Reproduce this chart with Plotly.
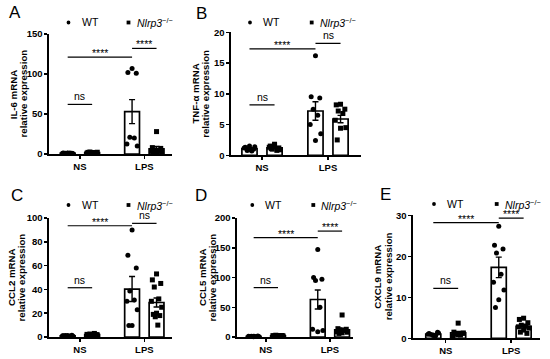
import plotly.graph_objects as go
import numpy as np

# ---------------- data ----------------
categories = ["NS", "LPS"]
groups = ["WT", "Nlrp3-/-"]

# A: IL-6
il6_wt_mean = [1.0, 53.0]
il6_wt_sem = [0.15, 15.0]
il6_ko_mean = [1.7, 6.5]
il6_ko_sem = [0.2, 2.8]
il6_wt_ns = [0.8, 1.2, 1.0, 0.9, 1.1, 1.0, 0.7, 1.3]
il6_ko_ns = [1.5, 2.0, 1.2, 2.5, 1.8, 1.0, 2.2, 1.6]
il6_wt_lps = [107, 102, 101, 21, 20, 12.5, 10]
il6_ko_lps = [28, 8, 7, 5, 4, 3.5, 3, 2, 1.5]

# B: TNF-a
tnf_wt_mean = [1.1, 7.2]
tnf_wt_sem = [0.15, 1.5]
tnf_ko_mean = [1.2, 5.9]
tnf_ko_sem = [0.15, 0.6]
tnf_wt_ns = [1.5, 1.3, 1.0, 0.8, 0.7, 1.2, 1.4, 0.9]
tnf_ko_ns = [1.8, 1.5, 1.2, 1.0, 0.8, 1.3, 0.9, 1.6, 1.1]
tnf_wt_lps = [16.2, 9.5, 9.3, 7.5, 6.5, 5.0, 3.5, 2.4]
tnf_ko_lps = [8.3, 8.2, 7.5, 7.2, 6.8, 5.7, 4.5, 4.4, 2.5]

# C: CCL2
ccl2_wt_mean = [1.0, 40.3]
ccl2_wt_sem = [0.15, 10.5]
ccl2_ko_mean = [2.0, 29.0]
ccl2_ko_sem = [0.25, 3.8]
ccl2_wt_ns = [0.5, 1.0, 1.5, 1.2, 0.8, 1.1, 0.9, 1.3]
ccl2_ko_ns = [1.0, 1.5, 2.0, 2.5, 3.0, 2.2, 1.8, 1.2]
ccl2_wt_lps = [90, 68.6, 58, 38.6, 31, 30, 22.8, 9.7, 9.7]
ccl2_ko_lps = [53, 48, 45, 42, 32, 30, 25, 20, 19, 18, 17, 10]

# D: CCL5
ccl5_wt_mean = [1.0, 63.0]
ccl5_wt_sem = [0.2, 16.0]
ccl5_ko_mean = [2.0, 12.0]
ccl5_ko_sem = [0.3, 3.0]
ccl5_wt_ns = [0.5, 1.0, 1.5, 1.2, 0.8, 1.1, 0.9, 1.3]
ccl5_ko_ns = [1.5, 2.0, 2.5, 3.0, 1.8, 2.2, 1.6, 2.4]
ccl5_wt_lps = [147, 100, 97, 95, 50, 13, 11, 9]
ccl5_ko_lps = [37, 14, 13, 12, 11, 9, 8, 7, 6]

# E: CXCL9
cxcl9_wt_mean = [1.0, 17.3]
cxcl9_wt_sem = [0.12, 2.5]
cxcl9_ko_mean = [1.3, 2.9]
cxcl9_ko_sem = [0.35, 0.4]
cxcl9_wt_ns = [0.8, 1.2, 1.5, 0.9, 0.6, 1.0, 1.3, 0.7]
cxcl9_ko_ns = [3.7, 1.5, 1.2, 1.0, 0.8, 0.5, 1.3, 0.9]
cxcl9_wt_lps = [27.3, 22.7, 21.8, 20.8, 15.6, 13.7, 11.8, 9.4, 7.5]
cxcl9_ko_lps = [4.9, 4.6, 3.8, 3.2, 3.0, 2.8, 2.5, 2.0, 1.5, 1.2]

y_titles = ["IL-6 mRNA", "TNF-α mRNA", "CCL2 mRNA", "CCL5 mRNA", "CXCL9 mRNA"]
y_title2 = "relative expression"
panel_letters = ["A", "B", "C", "D", "E"]
y_tickvals = [[0, 50, 100, 150], [0, 5, 10, 15, 20], [0, 20, 40, 60, 80, 100],
              [0, 50, 100, 150, 200], [0, 10, 20, 30]]

data = [
    (il6_wt_mean, il6_wt_sem, il6_ko_mean, il6_ko_sem, il6_wt_ns, il6_wt_lps, il6_ko_ns, il6_ko_lps),
    (tnf_wt_mean, tnf_wt_sem, tnf_ko_mean, tnf_ko_sem, tnf_wt_ns, tnf_wt_lps, tnf_ko_ns, tnf_ko_lps),
    (ccl2_wt_mean, ccl2_wt_sem, ccl2_ko_mean, ccl2_ko_sem, ccl2_wt_ns, ccl2_wt_lps, ccl2_ko_ns, ccl2_ko_lps),
    (ccl5_wt_mean, ccl5_wt_sem, ccl5_ko_mean, ccl5_ko_sem, ccl5_wt_ns, ccl5_wt_lps, ccl5_ko_ns, ccl5_ko_lps),
    (cxcl9_wt_mean, cxcl9_wt_sem, cxcl9_ko_mean, cxcl9_ko_sem, cxcl9_wt_ns, cxcl9_wt_lps, cxcl9_ko_ns, cxcl9_ko_lps),
]

# ---------------- layout (pixel geometry) ----------------
W, H = 550, 359
def px(x):
    return x / W
def py(y):
    return 1 - y / H

OFF = 0.19
BW = 0.23
FONT = "Liberation Sans, Arial, sans-serif"

layout_cfg = [
    dict(box=(49, 172, 34, 154), xr=[-0.48, 1.43], leg=(68.5, 128.5, 22.5), letter=(15.3, 12.5),
         tx=(13.3, 22.5),
         stats=[(-OFF, 1 - OFF, 121, "****"), (1 - OFF, 1 + OFF, 132, "****"), (-OFF, OFF, 62, "ns")]),
    dict(box=(231, 361, 32.3, 155.3), xr=[-0.47, 1.5], leg=(250, 311.7, 22.5), letter=(201, 14),
         tx=(195.8, 206),
         stats=[(-OFF, 1 - OFF, 17.3, "****"), (1 - OFF, 1 + OFF, 18.2, "ns"), (-OFF, OFF, 8.2, "ns")]),
    dict(box=(49, 172, 218, 337), xr=[-0.48, 1.43], leg=(68.5, 128.5, 205), letter=(17, 195),
         tx=(11.5, 21),
         stats=[(-OFF, 1 - OFF, 93.5, "****"), (1 - OFF, 1 + OFF, 95.5, "ns"), (-OFF, OFF, 41.4, "ns")]),
    dict(box=(237, 353, 218, 337), xr=[-0.45, 1.36], leg=(252.3, 313.3, 205), letter=(200.5, 195),
         tx=(202.5, 212),
         stats=[(-OFF, 1 - OFF, 167, "****"), (1 - OFF, 1 + OFF, 178, "****"), (-OFF, OFF, 83, "ns")]),
    dict(box=(413, 540, 215.3, 338.3), xr=[-0.5, 1.44], leg=(434, 496.7, 204), letter=(385, 194.5),
         tx=(378, 388.5),
         stats=[(-OFF, 1 - OFF, 28.2, "****"), (1 - OFF, 1 + OFF, 29.3, "****"), (-OFF, OFF, 12.2, "ns")]),
]

JIT = [0.0, -0.065, 0.065, -0.035, 0.035, -0.08, 0.08, 0.0, -0.05, 0.05, -0.02, 0.02]
def jitter(n, center):
    return [center + JIT[k % len(JIT)] for k in range(n)]

fig = go.Figure()
shapes = []
annotations = []
lay = {}

for i, (cfg, d) in enumerate(zip(layout_cfg, data)):
    wt_mean, wt_sem, ko_mean, ko_sem, wt_ns, wt_lps, ko_ns, ko_lps = d
    xa = "x" if i == 0 else f"x{i+1}"
    ya = "y" if i == 0 else f"y{i+1}"
    xk = "xaxis" if i == 0 else f"xaxis{i+1}"
    yk = "yaxis" if i == 0 else f"yaxis{i+1}"
    yt = y_tickvals[i]

    for mean, sem, sgn in ((wt_mean, wt_sem, -1), (ko_mean, ko_sem, 1)):
        fig.add_trace(go.Bar(
            x=[0 + sgn * OFF, 1 + sgn * OFF], y=mean, width=BW,
            marker=dict(color="white", line=dict(color="black", width=1.7)),
            error_y=dict(type="data", array=sem, color="black", thickness=1.4, width=3),
            xaxis=xa, yaxis=ya, showlegend=False, hoverinfo="skip"))

    for pts, c, sym in ((wt_ns, -OFF, "circle"), (wt_lps, 1 - OFF, "circle"),
                        (ko_ns, OFF, "square"), (ko_lps, 1 + OFF, "square")):
        fig.add_trace(go.Scatter(
            x=jitter(len(pts), c), y=pts, mode="markers",
            marker=dict(symbol=sym, size=5, color="black", line=dict(width=0)),
            cliponaxis=False, xaxis=xa, yaxis=ya, showlegend=False, hoverinfo="skip"))

    x0, x1, y0, y1 = cfg["box"]
    lay[xk] = dict(domain=[px(x0), px(x1)], range=cfg["xr"], anchor=ya,
                   tickvals=[0, 1], ticktext=categories, automargin=False,
                   showline=True, linecolor="black", linewidth=1.6,
                   ticks="outside", ticklen=3, tickwidth=1.5, tickcolor="black",
                   showgrid=False, zeroline=False,
                   tickfont=dict(family=FONT, size=9.5, color="black", weight="bold"))
    lay[yk] = dict(domain=[py(y1), py(y0)], range=[0, yt[-1]], anchor=xa,
                   tickvals=yt, showline=True, linecolor="black", linewidth=1.6, automargin=False,
                   ticks="outside", ticklen=3, tickwidth=1.5, tickcolor="black",
                   showgrid=False, zeroline=False,
                   tickfont=dict(family=FONT, size=9.5, color="black", weight="bold"))

    lx, ly = cfg["letter"]
    annotations.append(dict(text=panel_letters[i], x=px(lx), y=py(ly), xref="paper", yref="paper",
                            showarrow=False, xanchor="center", yanchor="middle", borderpad=0,
                            font=dict(family=FONT, size=17, color="black")))
    ymid = (y0 + y1) / 2
    for t, tx in ((y_titles[i], cfg["tx"][0]), (y_title2, cfg["tx"][1])):
        annotations.append(dict(text=t, x=px(tx), y=py(ymid), xref="paper", yref="paper",
                                showarrow=False, textangle=-90, xanchor="center", yanchor="middle",
                                borderpad=0,
                                font=dict(family=FONT, size=9.7, color="black", weight="bold")))
    dx, sx, lyy = cfg["leg"]
    r = 1.9
    shapes.append(dict(type="circle", xref="paper", yref="paper",
                       x0=px(dx - r), x1=px(dx + r), y0=py(lyy + r), y1=py(lyy - r),
                       fillcolor="black", line=dict(width=0)))
    shapes.append(dict(type="rect", xref="paper", yref="paper",
                       x0=px(sx - r), x1=px(sx + r), y0=py(lyy + r), y1=py(lyy - r),
                       fillcolor="black", line=dict(width=0)))
    annotations.append(dict(text=groups[0], x=px(dx + 12), y=py(lyy), xref="paper", yref="paper",
                            showarrow=False, xanchor="left", yanchor="middle", borderpad=0,
                            font=dict(family=FONT, size=10.5, color="black")))
    annotations.append(dict(text="<i>Nlrp3</i><sup>−/−</sup>", x=px(sx + 7), y=py(lyy), xref="paper",
                            yref="paper", showarrow=False, xanchor="left", yanchor="middle",
                            borderpad=0, font=dict(family=FONT, size=10.5, color="black")))
    for sx0, sx1, sy, txt in cfg["stats"]:
        shapes.append(dict(type="line", xref=xa, yref=ya, x0=sx0, x1=sx1, y0=sy, y1=sy,
                           line=dict(color="black", width=1.2)))
        annotations.append(dict(text=txt, x=(sx0 + sx1) / 2, y=sy, xref=xa, yref=ya,
                                showarrow=False, xanchor="center", yanchor="bottom", borderpad=0,
                                yshift=-3 if txt == "****" else 1,
                                font=dict(family=FONT, size=10.5, color="black")))

fig.update_layout(width=W, height=H, margin=dict(l=0, r=0, t=0, b=0),
                  paper_bgcolor="white", plot_bgcolor="white", barmode="overlay",
                  shapes=shapes, annotations=annotations, showlegend=False, **lay)

fig.write_html("out.html", config={"displayModeBar": False, "staticPlot": True},
               post_script="document.body.style.margin='0';document.body.style.padding='0';")
